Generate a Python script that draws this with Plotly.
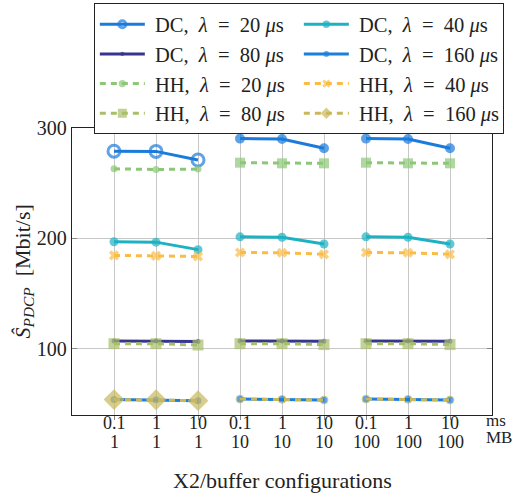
import plotly.graph_objects as go

# ---- data ----
ms_labels = ["0.1", "1", "10", "0.1", "1", "10", "0.1", "1", "10"]
mb_labels = ["1", "1", "1", "10", "10", "10", "100", "100", "100"]
positions = [1, 2, 3, 4, 5, 6, 7, 8, 9]

dc20 = [279, 278.8, 271, 290.4, 290, 281.6, 290.4, 290, 281.6]
dc40 = [197, 196.6, 189.8, 201.4, 201, 194.9, 201.4, 201, 194.9]
dc80 = [107, 107, 106.6, 107, 107, 106.8, 107, 107, 106.8]
dc160 = [54, 53.8, 53, 54.4, 54.2, 53.6, 54.4, 54.2, 53.6]
hh20 = [263, 262.4, 262.8, 268.6, 268, 268, 268.6, 268, 268]
hh40 = [184.6, 184.2, 183.6, 187.2, 187, 185.6, 187.2, 187, 185.6]
hh80 = [104.6, 104.6, 103.4, 104.6, 104.6, 103.8, 104.6, 104.6, 103.8]
hh160 = [54, 53.8, 53, 54.4, 54.2, 53.6, 54.4, 54.2, 53.6]

NB = "\u00a0"


def lname(kind, lam):
    return (f"{NB}{kind},{NB * 2}<i>λ</i>{NB * 2}={NB * 2}{lam}{NB}<i>μ</i>s")


names = [lname("DC", 20), lname("DC", 40), lname("DC", 80), lname("DC", 160),
         lname("HH", 20), lname("HH", 40), lname("HH", 80), lname("HH", 160)]


def gapped(vals):
    out = []
    for i, v in enumerate(vals):
        if i > 0 and i % 3 == 0:
            out.append(None)
        out.append(v)
    return out


xg = gapped(positions)

styles = [
    # values, color, dash, symbols (group1, rest), sizes (group1, rest), marker line width
    (dc20, "#1b7bdc", "solid", ("circle-open", "circle"), (12, 7), 3),
    (dc40, "#1cb2c2", "solid", ("circle", "circle"), (9, 9), 0),
    (dc80, "#38358f", "solid", ("circle", "circle"), (5, 5), 0),
    (dc160, "#1b7fdc", "solid", ("circle", "circle"), (7, 7), 0),
    (hh20, "#8cc777", "dash", ("circle", "square"), (7, 10), 0),
    (hh40, "#fbbc45", "dash", ("x", "x"), (9, 9), 0),
    (hh80, "#a8bf69", "dash", ("square", "square"), (11, 11), 0),
    (hh160, "#c9b85b", "dash", ("diamond", "circle-open"), (16, 8), 0),
]

fig = go.Figure()
for name, (vals, col, dash, syms, sizes, mlw) in zip(names, styles):
    sym = [syms[0]] * 3 + [syms[1]] + [syms[1]] * 3 + [syms[1]] + [syms[1]] * 3
    sz = [sizes[0]] * 3 + [0] + [sizes[1]] * 3 + [0] + [sizes[1]] * 3
    fig.add_trace(go.Scatter(
        x=xg, y=gapped(vals), name=name, mode="lines+markers",
        connectgaps=False,
        line=dict(color=col, width=3, dash="6px,5px" if dash == "dash" else "solid"),
        marker=dict(color=col, symbol=sym, size=sz,
                    line=dict(color=col, width=mlw)),
    ))

font_family = "Liberation Serif"
TXT = "#222"

fig.update_layout(
    width=515, height=498,
    margin=dict(l=72, r=23, t=128, b=83, autoexpand=False),
    paper_bgcolor="white", plot_bgcolor="white",
    font=dict(family=font_family, size=19, color=TXT),
    showlegend=True,
    legend=dict(
        orientation="h", x=0.052, xanchor="left", y=1.434, yanchor="top",
        entrywidth=144, entrywidthmode="pixels", itemwidth=45,
        bgcolor="white", bordercolor=TXT, borderwidth=1,
        font=dict(family=font_family, size=20.5, color=TXT),
        traceorder="normal",
    ),
    xaxis=dict(
        range=[0, 10], tickvals=positions, showticklabels=False,
        showgrid=True, gridcolor="#c8c8c8", gridwidth=1,
        showline=True, linecolor=TXT, linewidth=1.3, mirror=True,
        ticks="outside", ticklen=4, tickcolor="#888",
        zeroline=False, automargin=False,
    ),
    yaxis=dict(
        range=[40, 300], tickvals=[100, 200, 300],
        showgrid=True, gridcolor="#c8c8c8", gridwidth=1,
        showline=True, linecolor=TXT, linewidth=1.3, mirror="allticks",
        ticks="inside", ticklen=5, tickcolor="#888",
        tickfont=dict(size=20), zeroline=False, automargin=False,
    ),
)

# two rows of x tick labels: X2 delay (ms) and buffer size (MB)
for p, a, b in zip(positions, ms_labels, mb_labels):
    fig.add_annotation(x=p, y=0, xref="x", yref="paper", text=a, showarrow=False,
                       xanchor="center", yanchor="middle", yshift=-8,
                       font=dict(size=18, family=font_family, color=TXT))
    fig.add_annotation(x=p, y=0, xref="x", yref="paper", text=b, showarrow=False,
                       xanchor="center", yanchor="middle", yshift=-27,
                       font=dict(size=18, family=font_family, color=TXT))

# unit labels
fig.add_annotation(x=1.0, y=0, xref="paper", yref="paper", text="ms", showarrow=False,
                   xanchor="left", yanchor="middle", xshift=-8, yshift=-5,
                   font=dict(size=17, family=font_family, color=TXT))
fig.add_annotation(x=1.0, y=0, xref="paper", yref="paper", text="MB", showarrow=False,
                   xanchor="left", yanchor="middle", xshift=-8, yshift=-22,
                   font=dict(size=17, family=font_family, color=TXT))

# axis titles
fig.add_annotation(x=0.5, y=0, xref="paper", yref="paper",
                   text="X2/buffer configurations", showarrow=False,
                   xanchor="center", yanchor="middle", yshift=-65,
                   font=dict(size=22, family=font_family, color=TXT))
fig.add_annotation(x=-49 / 420, y=0.5, xref="paper", yref="paper",
                   text="<i>Ŝ</i><sub><i>PDCP</i></sub>" + NB + NB + "[Mbit/s]",
                   showarrow=False, textangle=-90,
                   xanchor="center", yanchor="middle",
                   font=dict(size=22, family=font_family, color=TXT))

fig.write_html(
    "out.html",
    config={"displayModeBar": False},
    post_script="document.body.style.margin='0px';document.body.style.overflow='hidden';",
)
